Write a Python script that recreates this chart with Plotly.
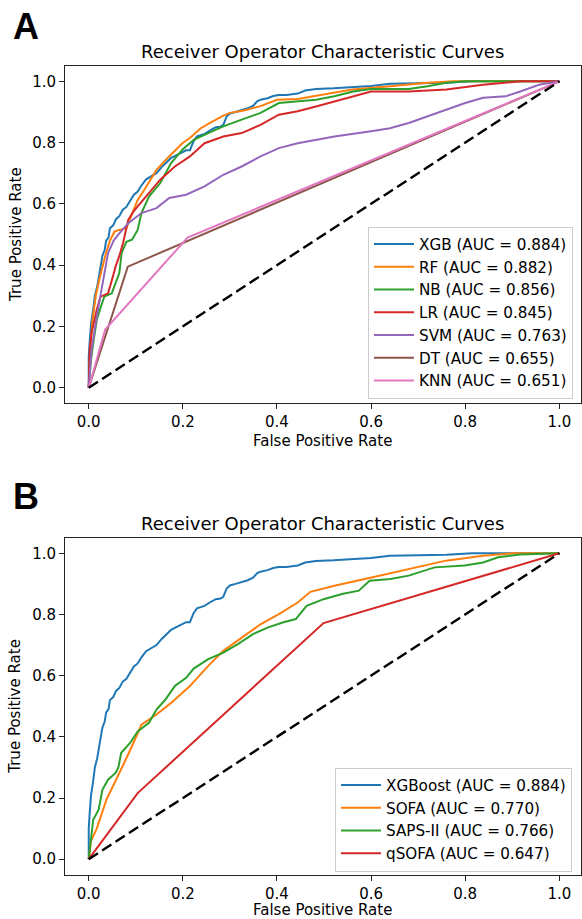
import plotly.graph_objects as go

# ---------------- data ----------------
xgb_fpr = [0, 0, 0.002, 0.005, 0.009, 0.013, 0.018, 0.021, 0.026, 0.029, 0.034, 0.037, 0.042, 0.045,
           0.052, 0.058, 0.065, 0.072, 0.080, 0.088, 0.096, 0.104, 0.112, 0.122, 0.133, 0.144, 0.155,
           0.165, 0.175, 0.188, 0.200, 0.207, 0.215, 0.223, 0.230, 0.240, 0.246, 0.258, 0.270, 0.280,
           0.286, 0.293, 0.300, 0.312, 0.325, 0.338, 0.349, 0.358, 0.365, 0.380, 0.392, 0.404, 0.420,
           0.444, 0.460, 0.483, 0.52, 0.562, 0.60, 0.64, 0.70, 0.76, 0.815, 0.9, 1.0]
xgb_tpr = [0, 0.10, 0.15, 0.21, 0.25, 0.30, 0.33, 0.36, 0.40, 0.43, 0.45, 0.48, 0.49, 0.52,
           0.53, 0.55, 0.56, 0.58, 0.59, 0.61, 0.63, 0.64, 0.66, 0.68, 0.69, 0.70, 0.72,
           0.735, 0.75, 0.76, 0.77, 0.775, 0.775, 0.805, 0.82, 0.825, 0.828, 0.84, 0.85, 0.852,
           0.858, 0.885, 0.895, 0.90, 0.905, 0.912, 0.92, 0.935, 0.94, 0.945, 0.952, 0.955, 0.955,
           0.96, 0.97, 0.975, 0.977, 0.981, 0.985, 0.992, 0.993, 0.995, 1.0, 1.0, 1.0]

rf_fpr = [0, 0.003, 0.008, 0.015, 0.022, 0.030, 0.035, 0.045, 0.055, 0.065, 0.080, 0.090, 0.104, 0.120,
          0.144, 0.167, 0.185, 0.199, 0.215, 0.238, 0.255, 0.270, 0.285, 0.30, 0.33, 0.365, 0.40,
          0.444, 0.50, 0.56, 0.64, 0.72, 0.775, 1.0]
rf_tpr = [0, 0.12, 0.22, 0.30, 0.35, 0.40, 0.43, 0.48, 0.51, 0.515, 0.52, 0.56, 0.613, 0.65,
          0.711, 0.749, 0.775, 0.798, 0.815, 0.847, 0.862, 0.875, 0.887, 0.897, 0.905, 0.919, 0.94,
          0.942, 0.956, 0.973, 0.984, 0.995, 1.0, 1.0]

nb_fpr = [0, 0.004, 0.010, 0.017, 0.025, 0.033, 0.049, 0.057, 0.065, 0.070, 0.080, 0.092, 0.104, 0.112,
          0.128, 0.152, 0.175, 0.199, 0.223, 0.254, 0.286, 0.325, 0.365, 0.404, 0.444, 0.483, 0.522,
          0.562, 0.60, 0.68, 0.72, 0.76, 0.80, 1.0]
nb_tpr = [0, 0.08, 0.15, 0.221, 0.26, 0.297, 0.308, 0.34, 0.374, 0.44, 0.476, 0.483, 0.515, 0.57,
          0.624, 0.668, 0.733, 0.777, 0.809, 0.831, 0.853, 0.875, 0.897, 0.929, 0.935, 0.94, 0.951,
          0.967, 0.975, 0.975, 0.984, 0.995, 1.0, 1.0]

lr_fpr = [0, 0.002, 0.006, 0.012, 0.017, 0.025, 0.041, 0.049, 0.057, 0.065, 0.073, 0.084, 0.095, 0.104,
          0.128, 0.152, 0.183, 0.215, 0.246, 0.286, 0.325, 0.365, 0.404, 0.444, 0.483, 0.522, 0.57,
          0.60, 0.68, 0.76, 0.838, 0.917, 1.0]
lr_tpr = [0, 0.12, 0.178, 0.22, 0.254, 0.297, 0.308, 0.35, 0.395, 0.43, 0.472, 0.548, 0.575, 0.592,
          0.635, 0.679, 0.722, 0.755, 0.798, 0.82, 0.831, 0.858, 0.891, 0.902, 0.918, 0.935, 0.956,
          0.967, 0.967, 0.973, 0.989, 1.0, 1.0]

svm_fpr = [0, 0.003, 0.006, 0.017, 0.029, 0.041, 0.053, 0.065, 0.084, 0.112, 0.144, 0.171, 0.207,
           0.246, 0.286, 0.325, 0.365, 0.404, 0.444, 0.483, 0.522, 0.60, 0.64, 0.68, 0.72, 0.76,
           0.80, 0.838, 0.886, 0.917, 0.957, 1.0]
svm_tpr = [0, 0.06, 0.123, 0.232, 0.341, 0.439, 0.48, 0.504, 0.537, 0.57, 0.586, 0.619, 0.63,
           0.657, 0.695, 0.722, 0.755, 0.782, 0.798, 0.809, 0.82, 0.837, 0.847, 0.864, 0.886, 0.908,
           0.929, 0.946, 0.951, 0.967, 0.989, 1.0]

dt_fpr = [0, 0.083, 1.0]
dt_tpr = [0, 0.395, 1.0]

knn_fpr = [0, 0.035, 0.21, 1.0]
knn_tpr = [0, 0.19, 0.49, 1.0]

sofa_fpr = [0, 0.005, 0.017, 0.038, 0.055, 0.065, 0.080, 0.095, 0.112, 0.144, 0.175, 0.215, 0.254,
            0.286, 0.325, 0.365, 0.404, 0.444, 0.471, 0.522, 0.601, 0.68, 0.759, 0.838, 0.90, 1.0]
sofa_tpr = [0, 0.06, 0.10, 0.196, 0.25, 0.28, 0.33, 0.38, 0.44, 0.473, 0.511, 0.566, 0.632,
            0.681, 0.725, 0.768, 0.801, 0.839, 0.874, 0.894, 0.921, 0.949, 0.976, 0.992, 1.0, 1.0]

saps_fpr = [0, 0.002, 0.0055, 0.0095, 0.021, 0.029, 0.041, 0.057, 0.063, 0.069, 0.088, 0.104, 0.128,
            0.144, 0.163, 0.183, 0.207, 0.223, 0.254, 0.286, 0.317, 0.349, 0.38, 0.412, 0.44, 0.463,
            0.499, 0.538, 0.574, 0.597, 0.641, 0.68, 0.735, 0.799, 0.838, 0.87, 0.917, 1.0]
saps_tpr = [0, 0.03, 0.074, 0.129, 0.162, 0.227, 0.26, 0.282, 0.30, 0.348, 0.38, 0.418, 0.446,
            0.489, 0.522, 0.566, 0.593, 0.623, 0.654, 0.675, 0.703, 0.736, 0.757, 0.774, 0.785, 0.828,
            0.85, 0.867, 0.878, 0.91, 0.916, 0.927, 0.954, 0.96, 0.97, 0.987, 0.996, 1.0]

qsofa_fpr = [0, 0.104, 0.499, 1.0]
qsofa_tpr = [0, 0.216, 0.772, 1.0]

chance = [0, 1]

panel_a_names = ["XGB (AUC = 0.884)", "RF (AUC = 0.882)", "NB (AUC = 0.856)", "LR (AUC = 0.845)",
                 "SVM (AUC = 0.763)", "DT (AUC = 0.655)", "KNN (AUC = 0.651)"]
panel_b_names = ["XGBoost (AUC = 0.884)", "SOFA (AUC = 0.770)", "SAPS-II (AUC = 0.766)",
                 "qSOFA (AUC = 0.647)"]
tick_vals = [0, 0.2, 0.4, 0.6, 0.8, 1.0]
tick_text = ["0.0", "0.2", "0.4", "0.6", "0.8", "1.0"]

# ---------------- styling ----------------
W, H = 582, 919
colors = ["#1f77b4", "#ff7f0e", "#2ca02c", "#d62728", "#9467bd", "#8c564b", "#e377c2"]
FONT = "DejaVu Sans"
LW = 2.0
LEG_FS = 15.2
DASH = dict(color="black", width=2.4, dash="11px,5px")

fig = go.Figure()

a_curves = [(xgb_fpr, xgb_tpr), (rf_fpr, rf_tpr), (nb_fpr, nb_tpr), (lr_fpr, lr_tpr),
            (svm_fpr, svm_tpr), (dt_fpr, dt_tpr), (knn_fpr, knn_tpr)]
for i, ((fx, ty), name) in enumerate(zip(a_curves, panel_a_names)):
    fig.add_trace(go.Scatter(x=fx, y=ty, mode="lines", name=name, xaxis="x", yaxis="y",
                             line=dict(color=colors[i], width=LW), legend="legend"))
fig.add_trace(go.Scatter(x=chance, y=chance, mode="lines", showlegend=False, xaxis="x", yaxis="y",
                         line=DASH))

b_curves = [(xgb_fpr, xgb_tpr), (sofa_fpr, sofa_tpr), (saps_fpr, saps_tpr), (qsofa_fpr, qsofa_tpr)]
for i, ((fx, ty), name) in enumerate(zip(b_curves, panel_b_names)):
    fig.add_trace(go.Scatter(x=fx, y=ty, mode="lines", name=name, xaxis="x2", yaxis="y2",
                             line=dict(color=colors[i], width=LW), legend="legend2"))
fig.add_trace(go.Scatter(x=chance, y=chance, mode="lines", showlegend=False, xaxis="x2", yaxis="y2",
                         line=DASH))

xdom = [65.2 / W, 580.7 / W]
ydomA = [1 - 403 / H, 1 - 66 / H]
ydomB = [1 - 874.5 / H, 1 - 538 / H]

axis_common = dict(showgrid=False, zeroline=False, showline=True, mirror=True, linecolor="#222",
                   linewidth=1.2, ticks="outside", ticklen=5, tickwidth=1.2, tickcolor="#222",
                   tickvals=tick_vals, ticktext=tick_text, automargin=False,
                   tickfont=dict(family=FONT, size=15, color="black"))
xrange_ = [-0.05, 1.0454]
yrange_ = [-0.05, 1.05]

legend_common = dict(bgcolor="rgba(255,255,255,0.8)", bordercolor="#cccccc", borderwidth=1,
                     font=dict(family=FONT, size=LEG_FS, color="black"), itemwidth=40,
                     tracegroupgap=0)

fig.update_layout(
    template="none",
    width=W, height=H, margin=dict(l=0, r=0, t=0, b=0, pad=0, autoexpand=False),
    paper_bgcolor="white", plot_bgcolor="white",
    font=dict(family=FONT, size=15, color="black"),
    xaxis=dict(domain=xdom, range=xrange_, anchor="y", **axis_common),
    yaxis=dict(domain=ydomA, range=yrange_, anchor="x", **axis_common),
    xaxis2=dict(domain=xdom, range=xrange_, anchor="y2", **axis_common),
    yaxis2=dict(domain=ydomB, range=yrange_, anchor="x2", **axis_common),
    legend=dict(x=573 / W, xanchor="right", y=1 - 398.5 / H, yanchor="bottom", **legend_common),
    legend2=dict(x=572 / W, xanchor="right", y=1 - 871.5 / H, yanchor="bottom", **legend_common),
    showlegend=True,
)

cx = (xdom[0] + xdom[1]) / 2
ann = []
for letter, ly in [("A", 26), ("B", 496.5)]:
    ann.append(dict(text=f"<b>{letter}</b>", x=25.5 / W, y=1 - ly / H, xref="paper", yref="paper",
                    xanchor="center", yanchor="middle", showarrow=False,
                    font=dict(family="Liberation Sans", size=36, color="black")))
for ty in [51.7, 523]:
    ann.append(dict(text="Receiver Operator Characteristic Curves", x=cx, y=1 - ty / H,
                    xref="paper", yref="paper", xanchor="center", yanchor="middle", showarrow=False,
                    font=dict(family=FONT, size=18, color="black")))
for ty in [441, 910]:
    ann.append(dict(text="False Positive Rate", x=cx, y=1 - ty / H, xref="paper", yref="paper",
                    xanchor="center", yanchor="middle", showarrow=False,
                    font=dict(family=FONT, size=15, color="black")))
for dom in [ydomA, ydomB]:
    ann.append(dict(text="True Positive Rate", x=15.5 / W, y=(dom[0] + dom[1]) / 2,
                    xref="paper", yref="paper", xanchor="center", yanchor="middle", textangle=-90,
                    showarrow=False, font=dict(family=FONT, size=15, color="black")))
fig.update_layout(annotations=ann)

fig.write_html("out.html", config={"displayModeBar": False},
               post_script="document.body.style.margin='0';document.body.style.overflow='hidden';")
